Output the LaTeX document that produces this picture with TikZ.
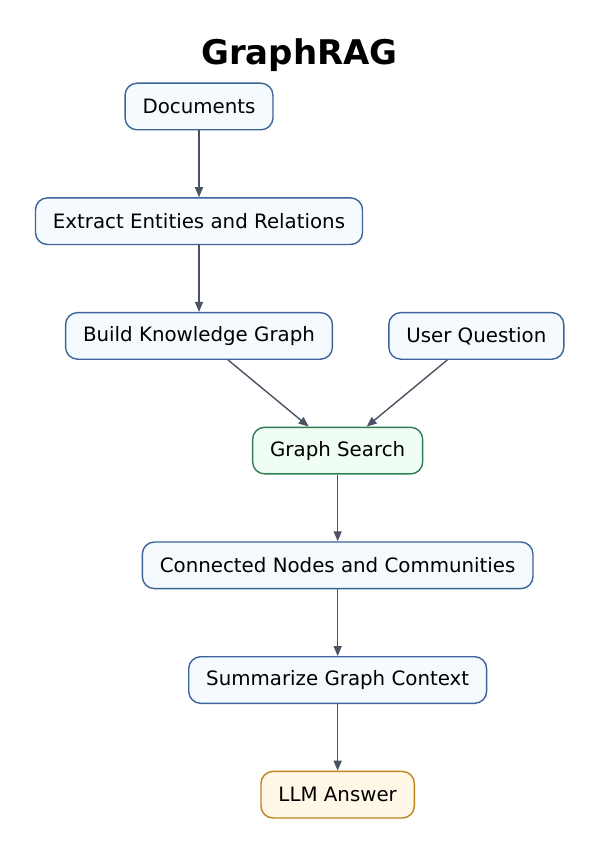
\documentclass[tikz,border=0pt]{standalone}
\usepackage{fontspec}
\setmainfont{DejaVu Sans}
\usetikzlibrary{arrows.meta, positioning, calc}

\definecolor{boxblue}{HTML}{3C6498}
\definecolor{fillblue}{HTML}{F5FAFF}
\definecolor{boxgreen}{HTML}{2F7D57}
\definecolor{fillgreen}{HTML}{EFFDF4}
\definecolor{boxorange}{HTML}{C0851A}
\definecolor{fillorange}{HTML}{FFF8E7}
\definecolor{arrowgray}{HTML}{4B5263}

\begin{document}
\begin{tikzpicture}[x=1pt, y=1pt, node distance=66.7pt,
        flowbox/.style={rectangle, draw=boxblue, fill=fillblue, line width=1.4pt, rounded corners=12pt,
            minimum height=46.6pt, inner xsep=17.5pt, font=\fontsize{19.8}{24}\selectfont},
        searchbox/.style={flowbox, draw=boxgreen, fill=fillgreen},
        answerbox/.style={flowbox, draw=boxorange, fill=fillorange},
        line/.style={draw=arrowgray, line width=1.4pt, -{Triangle[length=10pt, width=8pt]}}]

        \useasboundingbox (0,0) rectangle (599,-853);

        \node [font=\fontsize{34}{40}\bfseries] (title) at (299.5,-55) {GraphRAG};
        \node [flowbox] (docs) at (199,-106.5) {Documents};
        \node [flowbox, below=of docs] (extract) {Extract Entities and Relations};
        \node [flowbox, below=of extract] (build) {Build Knowledge Graph};
        \node [flowbox, right=55pt of build] (question) {User Question};
        \coordinate (midq) at ($(build.south)!0.5!(question.south)$);
        \node [searchbox, below=of midq] (search) {Graph Search};
        \node [flowbox, below=of search] (connected) {Connected Nodes and Communities};
        \node [flowbox, below=of connected] (summary) {Summarize Graph Context};
        \node [answerbox, below=of summary] (answer) {LLM Answer};

        \path [line] (docs) -- (extract);
        \path [line] (extract) -- (build);
        \path [line] (build) -- (search);
        \path [line] (question) -- (search);
        \path [line] (search) -- (connected);
        \path [line] (connected) -- (summary);
        \path [line] (summary) -- (answer);

\end{tikzpicture}
\end{document}
